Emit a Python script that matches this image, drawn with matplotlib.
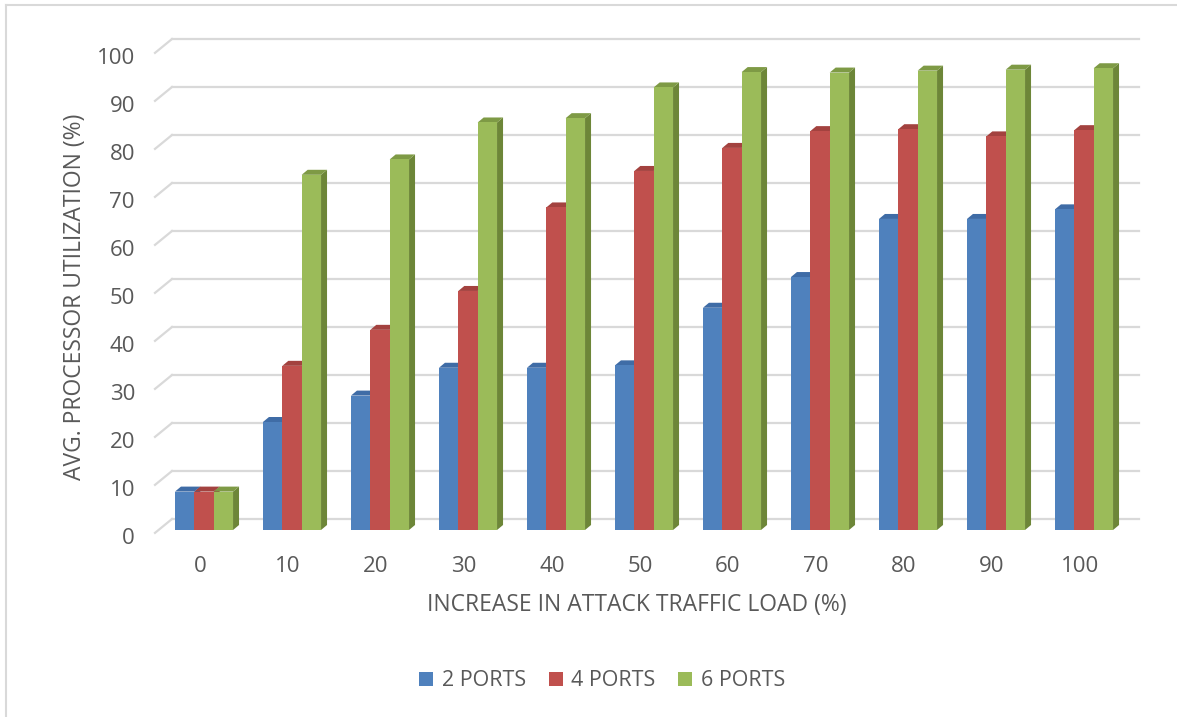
import matplotlib
matplotlib.use("Agg")
import matplotlib.pyplot as plt
from matplotlib.patches import Polygon, Patch
from matplotlib.transforms import ScaledTranslation
from matplotlib.lines import Line2D

categories = ["0", "10", "20", "30", "40", "50", "60", "70", "80", "90", "100"]
ports2 = [8, 22.5, 28, 33.8, 33.8, 34.3, 46.3, 52.7, 64.8, 64.8, 66.8]
ports4 = [8, 34.2, 41.7, 49.8, 67.2, 74.8, 79.6, 83.1, 83.5, 82.0, 83.3]
ports6 = [8, 74.0, 77.2, 84.9, 85.8, 92.2, 95.4, 95.3, 95.7, 95.9, 96.2]
series_names = ["2 PORTS", "4 PORTS", "6 PORTS"]
yticks = [0, 10, 20, 30, 40, 50, 60, 70, 80, 90, 100]

front_cols = ["#4F81BD", "#C0504D", "#9BBB59"]
side_cols = ["#3A6399", "#943B39", "#6D8638"]
top_cols = ["#3F6CA6", "#A3423F", "#7E9A45"]
txt = "#595959"

plt.rcParams['font.family'] = ['Open Sans', 'DejaVu Sans']

W, H = 1177, 717
fig = plt.figure(figsize=(W / 100, H / 100), dpi=100)
# axes: x -0.5..10.5 -> px 160..1128 ; y 0..100 -> px 530..50
ax_l, ax_r, ax_b, ax_t = 160, 1128, 530, 50
ax = fig.add_axes([ax_l / W, (H - ax_b) / H, (ax_r - ax_l) / W, (ax_b - ax_t) / H])
n = len(categories)
ax.set_xlim(-0.5, n - 0.5)
ax.set_ylim(0, 100)
for s in ax.spines.values():
    s.set_visible(False)

pxx = (ax_r - ax_l) / n          # pixels per x unit
pxy = (ax_b - ax_t) / 100.0      # pixels per y unit

# back wall gridlines and floor diagonals
gdx0, gdx1, gdy = 17, 11, 11
xl_front = -0.5 - 5 / pxx
for v in yticks:
    yb = v + gdy / pxy
    xs = xl_front + gdx0 / pxx
    xe = n - 0.5 + gdx1 / pxx
    ax.add_line(Line2D([xs, xe], [yb, yb], color="#D9D9D9", lw=1.6, clip_on=False, zorder=0))
    ax.add_line(Line2D([xl_front, xs], [v - 0.6, yb], color="#D9D9D9", lw=1.6, clip_on=False, zorder=0))

# bars with 3D faces
bw = 0.22
bdx, bdy = 6 / pxx, 5 / pxy
data = [ports2, ports4, ports6]
for gi in range(n):
    for si, vals in enumerate(data):
        x0 = gi - 1.5 * bw + si * bw
        h = vals[gi]
        z = 2 + gi * 3 + si
        side = Polygon([(x0 + bw, 0), (x0 + bw + bdx, bdy), (x0 + bw + bdx, h + bdy), (x0 + bw, h)],
                       closed=True, facecolor=side_cols[si], edgecolor="none", zorder=z, clip_on=False)
        top = Polygon([(x0, h), (x0 + bdx, h + bdy), (x0 + bw + bdx, h + bdy), (x0 + bw, h)],
                      closed=True, facecolor=top_cols[si], edgecolor="none", zorder=z, clip_on=False)
        ax.add_patch(side)
        ax.add_patch(top)
        ax.bar(x0, h, width=bw, align="edge", color=front_cols[si], zorder=z + 0.5, clip_on=False)

ax.set_xticks(range(n))
ax.set_xticklabels(categories)
ax.set_yticks(yticks)
ax.set_yticklabels([str(v) for v in yticks])
ax.tick_params(axis="both", length=0, colors=txt, labelsize=16)
ax.tick_params(axis="y", pad=18)
ax.tick_params(axis="x", pad=18.5)
for lab in ax.get_yticklabels():
    lab.set_transform(lab.get_transform() + ScaledTranslation(0, -6 / 100, fig.dpi_scale_trans))
for lab in ax.get_xticklabels():
    lab.set_transform(lab.get_transform() + ScaledTranslation(-4 / 100, 0, fig.dpi_scale_trans))

fig.text(75 / W, 1 - 297 / H, "AVG. PROCESSOR UTILIZATION (%)", rotation=90,
         ha="center", va="center", color=txt, fontsize=16.5)
fig.text(637 / W, 1 - 605 / H, "INCREASE IN ATTACK TRAFFIC LOAD (%)",
         ha="center", va="center", color=txt, fontsize=16.5)

handles = [Patch(facecolor=c, edgecolor="none") for c in front_cols]
fig.legend(handles, series_names, loc="center", bbox_to_anchor=(602 / W, 1 - 681 / H),
           ncol=3, frameon=False, fontsize=15.5, labelcolor=txt, handlelength=0.65,
           handleheight=0.65, handletextpad=0.4, columnspacing=1.05)

# outer border (top and left)
fig.add_artist(Line2D([6 / W, 1], [1 - 5 / H, 1 - 5 / H], color="#D9D9D9", lw=1.5, transform=fig.transFigure))
fig.add_artist(Line2D([6 / W, 6 / W], [0, 1 - 5 / H], color="#D9D9D9", lw=1.5, transform=fig.transFigure))

fig.savefig("out.png", dpi=100, facecolor="white")
